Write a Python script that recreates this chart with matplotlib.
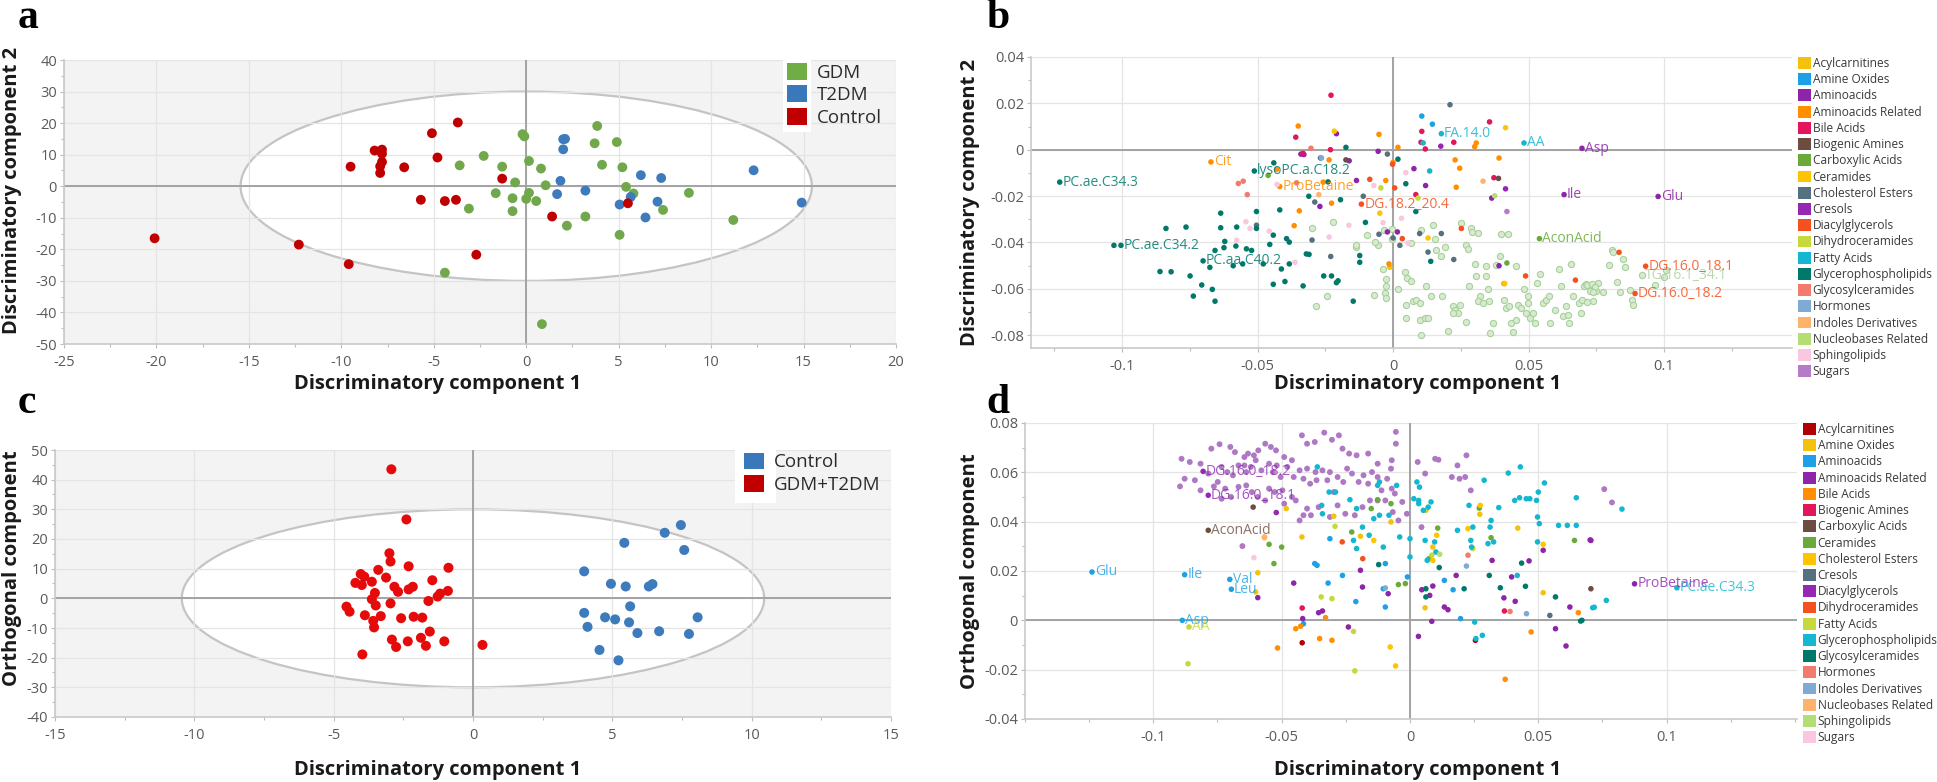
"""
OPLS-DA score and loading plots (GDM / T2DM / Control), four panels a-d.
"""

import matplotlib

matplotlib.use("Agg")
import matplotlib.pyplot as plt
from matplotlib.patches import Ellipse, Patch, Rectangle
from matplotlib.ticker import FixedLocator, FuncFormatter, MultipleLocator

plt.rcParams["font.family"] = ["Open Sans", "DejaVu Sans"]
plt.rcParams["axes.unicode_minus"] = False

# ──────────────────────────────────────────────────────────────────────────────
# Data: panel a (scores, 3 groups)
# ──────────────────────────────────────────────────────────────────────────────

a_groups = ["GDM", "T2DM", "Control"]
a_gdm = [(3.84, 19.1), (-0.2, 16.5), (-0.1, 15.8), (3.7, 13.6), (4.9, 14.0), (-2.3, 9.6),
         (-3.6, 6.6), (-1.3, 6.2), (0.15, 8.0), (0.8, 5.6), (4.1, 6.8), (5.2, 6.0),
         (-0.6, 1.2), (1.05, 0.3), (5.4, -0.2), (5.8, -2.3), (-1.65, -2.2), (-0.74, -3.8),
         (0.15, -2.1), (0.0, -4.0), (0.54, -4.7), (8.8, -2.1), (-3.1, -7.1), (-0.74, -7.9),
         (3.2, -9.6), (7.4, -7.5), (2.2, -12.5), (11.2, -10.7), (5.05, -15.4), (-4.4, -27.4),
         (0.85, -43.7)]
a_t2dm = [(2.0, 14.9), (2.1, 15.0), (2.0, 11.7), (1.85, 1.7), (1.67, -2.5), (3.2, -1.4),
          (6.2, 3.5), (7.3, 2.6), (5.65, -3.4), (5.05, -5.8), (7.1, -4.9), (6.45, -9.9),
          (12.3, 5.05), (14.9, -5.2)]
a_control = [(-3.7, 20.2), (-5.1, 16.8), (-8.2, 11.3), (-7.8, 11.6), (-7.8, 10.3), (-4.8, 9.1),
             (-9.5, 6.2), (-7.8, 7.7), (-7.9, 6.3), (-7.9, 4.2), (-6.6, 6.0), (-1.3, 2.4),
             (-5.7, -4.3), (-4.4, -4.7), (-3.8, -4.3), (1.4, -9.6), (5.5, -5.4), (-20.1, -16.5),
             (-12.3, -18.5), (-9.6, -24.7), (-2.7, -21.7)]
a_ellipse_half = (15.45, 30.0)

# ──────────────────────────────────────────────────────────────────────────────
# Data: panel c (scores, 2 groups)
# ──────────────────────────────────────────────────────────────────────────────

c_groups = ["Control", "GDM+T2DM"]
c_control = [(5.43, 18.7), (6.88, 22.1), (7.46, 24.7), (7.58, 16.3), (3.99, 9.1), (4.95, 4.9),
             (5.48, 4.0), (6.31, 4.0), (6.44, 4.8), (5.64, -2.7), (3.99, -4.9), (4.74, -6.4),
             (5.1, -7.1), (5.6, -8.1), (8.06, -6.4), (4.11, -9.6), (5.9, -11.7), (6.68, -11.1),
             (7.75, -12.0), (4.54, -17.4), (5.22, -20.9)]
c_gdm_t2dm = [(-2.93, 43.5), (-2.39, 26.6), (-3.0, 15.2), (-2.96, 12.4), (-2.31, 10.8),
              (-0.88, 10.3), (-3.4, 9.6), (-4.03, 8.2), (-3.9, 7.3), (-3.12, 7.0), (-4.22, 5.2),
              (-3.99, 4.5), (-3.63, 5.6), (-1.46, 6.1), (-2.82, 3.9), (-2.69, 2.2), (-2.31, 3.0),
              (-2.16, 3.9), (-3.52, 1.8), (-3.63, -0.3), (-0.9, 2.5), (-1.18, 1.6), (-1.27, 0.6),
              (-1.6, -0.9), (-2.96, -1.7), (-3.49, -2.4), (-4.54, -2.8), (-4.43, -4.5),
              (-3.88, -5.7), (-3.31, -6.0), (-2.58, -6.7), (-2.13, -6.2), (-1.82, -6.5),
              (-3.58, -7.6), (-3.55, -9.8), (-1.55, -11.2), (-1.87, -13.3), (-2.91, -13.9),
              (-2.34, -14.5), (-1.03, -14.5), (-2.76, -16.4), (-1.69, -16.0), (-3.97, -18.9),
              (0.34, -15.7)]
c_ellipse_half = (10.45, 30.0)

# ──────────────────────────────────────────────────────────────────────────────
# Data: panels b and d (loadings by compound class)
# ──────────────────────────────────────────────────────────────────────────────

classes = ["Acylcarnitines", "Amine Oxides", "Aminoacids", "Aminoacids Related", "Bile Acids",
           "Biogenic Amines", "Carboxylic Acids", "Ceramides", "Cholesterol Esters", "Cresols",
           "Diacylglycerols", "Dihydroceramides", "Fatty Acids", "Glycerophospholipids",
           "Glycosylceramides", "Hormones", "Indoles Derivatives", "Nucleobases Related",
           "Sphingolipids", "Sugars"]
loading_ticks = [-0.1, -0.05, 0, 0.05, 0.1]

b_points = {
    "Acylcarnitines": [(-0.0012, -0.0508)],
    "Amine Oxides": [(0.0106, 0.0145), (0.0145, 0.011)],
    "Aminoacids": [(0.0697, 0.0006), (0.0631, -0.0194), (0.0978, -0.0202), (-0.0209, 0.0069),
                   (-0.0055, -0.0007), (0.0077, -0.0082), (-0.0135, -0.0133), (-0.0162, -0.0048),
                   (-0.027, -0.0245), (0.012, -0.0155), (0.0364, -0.0209), (0.0391, -0.0501),
                   (-0.0021, -0.0355), (0.0016, -0.0355), (-0.034, -0.0019), (-0.0329, -0.0021)],
    "Aminoacids Related": [(-0.0672, -0.0053), (-0.035, 0.0102), (-0.043, -0.0085),
                           (-0.0418, -0.0159), (-0.0346, -0.0264), (-0.0365, -0.0328),
                           (-0.0236, -0.0044), (-0.0258, -0.014), (-0.0227, -0.0231),
                           (-0.0052, 0.0066), (-0.0027, -0.0133), (0.0, -0.0055), (0.0018, 0.001),
                           (0.0229, -0.0044), (0.0246, -0.008), (0.0307, 0.0029), (0.0301, 0.0013),
                           (0.0391, -0.0036), (0.0233, -0.0162), (0.0409, -0.0578),
                           (-0.0015, -0.0493)],
    "Bile Acids": [(-0.0229, 0.0235), (-0.0359, 0.0054), (0.0106, 0.0079), (0.0103, 0.0032),
                   (0.0119, 0.0003), (0.0224, 0.0032), (0.0356, 0.012), (0.0372, -0.0121),
                   (-0.0231, 0.0), (0.0084, -0.0194), (-0.0332, -0.0016)],
    "Biogenic Amines": [(-0.0174, -0.0044), (0.0389, -0.0124)],
    "Carboxylic Acids": [(0.054, -0.0384), (0.042, -0.0489), (-0.0461, -0.0111)],
    "Ceramides": [(-0.0217, 0.008), (-0.0049, -0.0274), (0.0129, -0.0381), (0.0412, -0.0578),
                  (0.0415, 0.0095)],
    "Cholesterol Esters": [(0.021, 0.0194), (-0.0021, -0.0019), (-0.0289, -0.0226),
                           (-0.023, -0.0461), (0.0, -0.0381), (0.0129, -0.0442), (0.0224, -0.0474),
                           (0.0178, -0.0362), (0.0098, -0.0362), (-0.0052, -0.0365),
                           (-0.0299, -0.039), (-0.0504, -0.0326), (-0.011, -0.0201),
                           (0.0025, -0.0413), (-0.0268, -0.0036)],
    "Cresols": [(0.0176, 0.0015), (0.0415, -0.0169)],
    "Diacylglycerols": [(-0.0117, -0.0235), (-0.0086, -0.0128), (-0.0002, -0.0063),
                        (0.0252, -0.034), (0.0489, -0.0545), (0.0673, -0.0563), (0.0932, -0.0503),
                        (0.0893, -0.0621), (0.0834, -0.0443), (0.0006, -0.0165), (0.0034, -0.0384)],
    "Dihydroceramides": [(-0.0045, -0.0165), (0.0092, -0.0209)],
    "Fatty Acids": [(0.0178, 0.0069), (0.0111, 0.0029), (0.0483, 0.0029), (0.0135, -0.0092)],
    "Glycerophospholipids": [
        (-0.123, -0.014), (-0.103, -0.0413), (-0.1004, -0.0413), (-0.0838, -0.034),
        (-0.0764, -0.0334), (-0.086, -0.0526), (-0.0819, -0.0527), (-0.0749, -0.0545),
        (-0.0737, -0.0632), (-0.0706, -0.0584), (-0.0667, -0.0603), (-0.0657, -0.0654),
        (-0.0701, -0.048), (-0.0676, -0.0508), (-0.0657, -0.0435), (-0.0624, -0.0423),
        (-0.0636, -0.0337), (-0.0636, -0.0274), (-0.0621, -0.0396), (-0.0577, -0.0334),
        (-0.058, -0.0416), (-0.059, -0.0501), (-0.0555, -0.0493), (-0.0541, -0.0428),
        (-0.0522, -0.0435), (-0.0504, -0.0267), (-0.0504, -0.034), (-0.0512, -0.0092),
        (-0.0479, -0.0493), (-0.0455, -0.0409), (-0.0442, -0.0369), (-0.0442, -0.0581),
        (-0.0418, -0.026), (-0.0399, -0.0569), (-0.0393, -0.0384), (-0.0383, -0.0399),
        (-0.0412, -0.0515), (-0.0383, -0.0493), (-0.044, -0.0057), (-0.0332, -0.0588),
        (-0.032, -0.045), (-0.031, -0.0452), (-0.0256, -0.0545), (-0.0227, -0.0545),
        (-0.0209, -0.0574), (-0.0203, -0.0566), (-0.0174, 0.001), (-0.0194, -0.0216),
        (-0.0147, -0.0654), (-0.0123, -0.0457), (-0.0123, -0.0486), (-0.0102, -0.0314),
        (0.0018, -0.0041), (0.0047, -0.0147), (0.0084, -0.0267), (0.0139, -0.0482),
        (-0.024, -0.0139), (-0.0311, -0.0201)],
    "Glycosylceramides": [(-0.0571, -0.0146), (-0.0553, -0.0136), (-0.0538, -0.0194),
                          (-0.0356, -0.0143), (-0.0303, 0.0006)],
    "Hormones": [(-0.0264, -0.0036)],
    "Indoles Derivatives": [(-0.0274, -0.0194), (0.0332, -0.0136)],
    "Nucleobases Related": [(0.0375, -0.0199)],
    "Sphingolipids": [(-0.0428, -0.015), (-0.0543, -0.0311), (-0.0528, -0.034), (-0.0577, -0.0391),
                      (-0.0457, -0.0352), (-0.0362, -0.0486), (-0.0236, -0.0377),
                      (-0.0163, -0.0326), (-0.0071, -0.0155), (0.0047, -0.0099),
                      (0.0031, -0.0296), (0.0055, -0.0403), (-0.0037, -0.0315)],
    "Sugars": [(0.042, -0.0267)],
}

# non-significant lipids (faded cluster, panel b)
b_faded = [(-0.0299, -0.0337), (-0.0285, -0.0673), (-0.0242, -0.0632), (-0.0221, -0.0311),
           (-0.0138, -0.0418), (-0.0098, -0.0369), (-0.0071, -0.0629), (-0.0055, -0.0413),
           (-0.0033, -0.0347), (-0.0031, -0.062), (-0.0027, -0.0588), (-0.0004, -0.0384),
           (-0.0027, -0.0559), (-0.0025, -0.0641), (-0.0004, -0.0343), (0.0045, -0.053),
           (0.0052, -0.0552), (0.0049, -0.0669), (0.0049, -0.0727), (0.0074, -0.0654),
           (0.0086, -0.0647), (0.0098, -0.0661), (0.0068, -0.0566), (0.0065, -0.0401),
           (0.0098, -0.0734), (0.0104, -0.08), (0.0117, -0.0727), (0.0129, -0.0727),
           (0.0123, -0.0588), (0.0141, -0.0632), (0.0147, -0.0326), (0.016, -0.0435),
           (0.0178, -0.0457), (0.0182, -0.0632), (0.0154, -0.0384), (0.019, -0.042),
           (0.0204, -0.0781), (0.0221, -0.0676), (0.0227, -0.069), (0.024, -0.0705),
           (0.0248, -0.0669), (0.0252, -0.0318), (0.027, -0.0413), (0.0268, -0.0742),
           (0.028, -0.0588), (0.0286, -0.034), (0.0292, -0.0355), (0.0301, -0.0493),
           (0.0307, -0.0545), (0.0319, -0.0632), (0.0313, -0.0654), (0.0332, -0.0661),
           (0.0342, -0.0545), (0.0344, -0.0501), (0.035, -0.0603), (0.0354, -0.0654),
           (0.0359, -0.0793), (0.0369, -0.0749), (0.0381, -0.0498), (0.0393, -0.0457),
           (0.0408, -0.0647), (0.0418, -0.0683), (0.0428, -0.0676), (0.0436, -0.0749),
           (0.0442, -0.0785), (0.0452, -0.0734), (0.0455, -0.0501), (0.0424, -0.0366),
           (0.0461, -0.0669), (0.0471, -0.0683), (0.0482, -0.0603), (0.0489, -0.0705),
           (0.0498, -0.0632), (0.0498, -0.0661), (0.0504, -0.0727), (0.0516, -0.0705),
           (0.0522, -0.0746), (0.0531, -0.0574), (0.0541, -0.0537), (0.0553, -0.0661),
           (0.0563, -0.0647), (0.0575, -0.0632), (0.058, -0.0746), (0.0596, -0.069),
           (0.0614, -0.0515), (0.062, -0.0588), (0.0627, -0.072), (0.0639, -0.0676),
           (0.0645, -0.0712), (0.0651, -0.0749), (0.0657, -0.0493), (0.0663, -0.0632),
           (0.0686, -0.0661), (0.0692, -0.0705), (0.0703, -0.0588), (0.0713, -0.0581),
           (0.0725, -0.061), (0.0737, -0.0654), (0.0749, -0.061), (0.0756, -0.0574),
           (0.0399, -0.0366), (0.0313, -0.0359), (0.0104, -0.0347), (-0.0135, -0.0413),
           (-0.0068, -0.0399), (-0.0037, -0.0515), (0.0018, -0.0603), (0.0276, -0.0428),
           (0.0221, -0.0705), (0.0807, -0.0434), (0.0848, -0.047), (0.0795, -0.0499),
           (0.0856, -0.0506), (0.0825, -0.0571), (0.0715, -0.0585), (0.0733, -0.0578),
           (0.0745, -0.0592), (0.0739, -0.0614), (0.0776, -0.0614), (0.0838, -0.0614),
           (0.0875, -0.0606), (0.0881, -0.0649), (0.0887, -0.0671), (0.0918, -0.0542),
           (0.0967, -0.0585), (0.0998, -0.0549), (0.1007, -0.052), (0.0696, -0.0649),
           (0.0715, -0.0657), (0.0813, -0.0442)]

b_labels = [("PC.ae.C34.3", "Glycerophospholipids", (-0.123, -0.014)),
            ("PC.ae.C34.2", "Glycerophospholipids", (-0.1004, -0.0413)),
            ("PC.aa.C40.2", "Glycerophospholipids", (-0.0701, -0.048)),
            ("lysoPC.a.C18.2", "Glycerophospholipids", (-0.0512, -0.0092)),
            ("Cit", "Aminoacids Related", (-0.0672, -0.0053)),
            ("ProBetaine", "Aminoacids Related", (-0.0418, -0.0159)),
            ("DG.18.2_20.4", "Diacylglycerols", (-0.0117, -0.0235)),
            ("FA.14.0", "Fatty Acids", (0.0178, 0.0069)),
            ("AA", "Fatty Acids", (0.0483, 0.0029)),
            ("Asp", "Aminoacids", (0.0697, 0.0006)),
            ("Ile", "Aminoacids", (0.0631, -0.0194)),
            ("Glu", "Aminoacids", (0.0978, -0.0202)),
            ("AconAcid", "Carboxylic Acids", (0.054, -0.0384)),
            ("DG.16.0_18.1", "Diacylglycerols", (0.0932, -0.0503)),
            ("DG.16.0_18.2", "Diacylglycerols", (0.0893, -0.0621))]
b_faded_label = ("TG.16.1_34.1", (0.0918, -0.0542))

d_points = {
    "Acylcarnitines": [(-0.042, -0.0091), (0.0255, -0.0081)],
    "Amine Oxides": [(-0.0482, 0.0453), (-0.0421, 0.0338), (-0.0297, 0.0422), (-0.0193, 0.0341),
                     (-0.0074, 0.0399), (0.0062, 0.0446), (0.0089, 0.0297), (0.0272, 0.043),
                     (0.042, 0.0374), (0.0519, 0.0112), (0.0059, 0.0051), (-0.0593, 0.0193)],
    "Aminoacids": [(-0.1239, 0.0196), (-0.0878, 0.0185), (-0.0702, 0.0166), (-0.0696, 0.0126),
                   (-0.0887, 0.0), (-0.0415, -0.0014), (-0.0371, 0.023), (-0.0362, 0.0223),
                   (-0.0319, 0.0151), (-0.0263, 0.0182), (-0.0211, 0.0076), (-0.0096, 0.0054),
                   (-0.0104, 0.0128), (-0.001, 0.0176), (0.0134, 0.0162), (0.0197, 0.0007),
                   (0.0168, 0.0124), (-0.0096, 0.023), (-0.0312, 0.0331)],
    "Aminoacids Related": [(0.0705, 0.0324), (0.0519, 0.0284), (0.0464, 0.0241), (0.032, 0.0243),
                           (0.0396, 0.0176), (0.018, 0.0182), (0.0366, 0.0091), (0.041, 0.0077),
                           (0.0623, 0.0054), (0.0567, -0.0034), (0.0608, -0.0104),
                           (0.0134, 0.0054), (0.0148, 0.0043), (0.0085, -0.0004),
                           (0.0033, -0.0065), (0.0046, 0.0124), (0.0089, 0.0139), (0.0077, 0.0101),
                           (-0.0085, 0.0108), (-0.0185, 0.0135), (-0.0193, 0.0203),
                           (-0.024, -0.0027), (-0.0453, 0.0151), (-0.0356, 0.0031),
                           (-0.0341, 0.0038), (-0.0418, 0.0007), (-0.0593, 0.0092),
                           (0.0702, 0.0326), (0.0875, 0.0148)],
    "Bile Acids": [(-0.0445, -0.0034), (-0.0426, -0.0024), (-0.0329, 0.0011), (-0.0352, -0.0074),
                   (-0.0304, -0.0081), (-0.0516, -0.0112), (0.0371, -0.0239), (0.0472, -0.0047),
                   (0.0656, 0.0031)],
    "Biogenic Amines": [(-0.042, 0.005), (0.0368, 0.0038)],
    "Carboxylic Acids": [(-0.0786, 0.0365), (-0.0611, 0.0459), (0.0705, 0.0128)],
    "Ceramides": [(-0.0549, 0.0308), (-0.05, 0.0297), (-0.053, 0.023), (-0.0151, 0.0453),
                  (-0.0126, 0.0489), (-0.0074, 0.0473), (-0.0227, 0.0358), (0.0108, 0.0374),
                  (0.0316, 0.0335), (0.027, 0.0455), (0.0641, 0.0324), (-0.0045, 0.0145),
                  (-0.0018, 0.0149), (0.0074, 0.025)],
    "Cholesterol Esters": [(-0.0567, 0.0335), (-0.0141, 0.0324), (0.0104, 0.0345),
                           (0.0226, 0.0372), (0.0274, 0.0466), (0.0519, 0.0308), (0.0089, 0.0243),
                           (-0.0601, 0.0115), (-0.0077, -0.0108), (-0.0056, -0.0185)],
    "Cresols": [(0.0545, 0.002)],
    "Diacylglycerols": [(-0.0806, 0.0604), (-0.0786, 0.0507), (-0.0521, 0.0437)],
    "Dihydroceramides": [(-0.0264, 0.0318), (-0.0184, 0.025)],
    "Fatty Acids": [(-0.0861, -0.0027), (-0.0865, -0.0176), (-0.022, -0.0045), (-0.0215, -0.0205),
                    (-0.0346, 0.0095), (-0.0304, 0.0088), (-0.0292, 0.0381), (0.0085, 0.0264),
                    (0.0245, 0.0291)],
    "Glycerophospholipids": [
        (-0.0361, 0.0622), (-0.0315, 0.052), (-0.029, 0.052), (-0.0344, 0.0466), (-0.0341, 0.0432),
        (-0.0234, 0.0489), (-0.0208, 0.0453), (-0.0185, 0.0378), (-0.022, 0.0324),
        (-0.0208, 0.0291), (-0.0159, 0.0345), (-0.0141, 0.0412), (-0.0126, 0.0547),
        (-0.0119, 0.0561), (-0.0119, 0.0426), (-0.0104, 0.0297), (-0.0082, 0.0426),
        (-0.0052, 0.0547), (-0.004, 0.0338), (0.0, 0.0331), (0.0, 0.0257), (0.0027, 0.0561),
        (0.0037, 0.054), (0.0015, 0.0493), (0.0034, 0.0486), (0.0034, 0.0473), (0.0052, 0.0446),
        (0.0082, 0.048), (0.0071, 0.0459), (0.0059, 0.0324), (0.0067, 0.0243), (0.0096, 0.0318),
        (0.0101, 0.0277), (0.0185, 0.0365), (0.0237, 0.0324), (0.024, 0.0297), (0.0245, 0.0378),
        (0.023, 0.0466), (0.0289, 0.0568), (0.0316, 0.0405), (0.0312, 0.0378), (0.0304, 0.0311),
        (0.0326, 0.0318), (0.0346, 0.0457), (0.0383, 0.0597), (0.0408, 0.0486), (0.0427, 0.0497),
        (0.043, 0.0622), (0.0453, 0.0493), (0.0467, 0.0493), (0.0493, 0.0486), (0.05, 0.052),
        (0.0524, 0.0557), (0.0497, 0.0419), (0.0504, 0.0392), (0.0497, 0.0318), (0.0579, 0.0385),
        (0.0613, 0.0385), (0.0648, 0.0385), (0.0648, 0.0497), (0.0418, 0.0182),
        (0.0257, -0.0074), (0.0282, -0.0061), (0.0712, 0.0051), (0.0252, -0.0007),
        (0.0826, 0.0451), (0.0765, 0.0081), (0.0718, 0.0053), (0.104, 0.0132)],
    "Glycosylceramides": [(-0.0122, 0.0226), (0.0062, 0.0095), (0.0062, 0.0128), (0.0114, 0.0214),
                          (0.0211, 0.0128), (0.0309, 0.0182), (0.0352, 0.0132), (0.0435, 0.0232),
                          (0.045, 0.0138), (0.0567, 0.0095), (0.0665, -0.0003), (0.067, 0.0)],
    "Hormones": [(0.0226, 0.0264), (0.039, 0.0036)],
    "Indoles Derivatives": [(-0.0096, 0.0131), (0.022, 0.022), (0.0454, 0.0027)],
    "Nucleobases Related": [(-0.0567, 0.0338)],
    "Sphingolipids": [(0.0116, 0.0268)],
    "Sugars": [(-0.0608, 0.0254)],
}

# non-significant diacylglycerols (faded cluster, panel d)
d_faded = [(-0.089, 0.0655), (-0.0858, 0.0642), (-0.0816, 0.0635), (-0.0774, 0.0696),
           (-0.0742, 0.0714), (-0.07, 0.0703), (-0.0682, 0.0682), (-0.0645, 0.0662),
           (-0.0631, 0.0676), (-0.0608, 0.0669), (-0.0591, 0.0689), (-0.0564, 0.0716),
           (-0.0542, 0.0703), (-0.0522, 0.0689), (-0.049, 0.0662), (-0.046, 0.0649),
           (-0.0421, 0.075), (-0.0401, 0.0716), (-0.0371, 0.0723), (-0.0334, 0.0761),
           (-0.0304, 0.0732), (-0.0277, 0.075), (-0.0263, 0.0696), (-0.0237, 0.0676),
           (-0.0208, 0.0669), (-0.0163, 0.0676), (-0.0126, 0.0635), (-0.0071, 0.0649),
           (-0.0055, 0.0764), (-0.0055, 0.0716), (-0.0074, 0.0615), (0.003, 0.0642),
           (0.0059, 0.0595), (0.0098, 0.0655), (0.0111, 0.0651), (0.0185, 0.0628),
           (0.022, 0.0669), (0.0215, 0.0581), (0.0237, 0.0527), (0.0193, 0.0574),
           (-0.0896, 0.0543), (-0.0878, 0.0574), (-0.0838, 0.0568), (-0.0816, 0.0527),
           (-0.0786, 0.0595), (-0.0764, 0.0543), (-0.0734, 0.0622), (-0.0712, 0.0601),
           (-0.069, 0.0588), (-0.0668, 0.0628), (-0.0645, 0.0628), (-0.0638, 0.0601),
           (-0.062, 0.0622), (-0.0601, 0.0649), (-0.0579, 0.0608), (-0.0549, 0.0635),
           (-0.0534, 0.0601), (-0.0519, 0.0628), (-0.0504, 0.0581), (-0.0478, 0.0622),
           (-0.0453, 0.0581), (-0.043, 0.0608), (-0.0415, 0.0574), (-0.0401, 0.0615),
           (-0.0389, 0.0554), (-0.0368, 0.0601), (-0.0364, 0.0568), (-0.0341, 0.0608),
           (-0.0322, 0.0568), (-0.0312, 0.0601), (-0.0297, 0.052), (-0.0282, 0.0581),
           (-0.026, 0.0561), (-0.0245, 0.0615), (-0.0226, 0.0595), (-0.02, 0.0561),
           (-0.0181, 0.0588), (-0.0163, 0.0554), (-0.0148, 0.0601), (-0.0126, 0.0581),
           (-0.0111, 0.0527), (-0.0089, 0.0574), (-0.0071, 0.0534), (-0.0059, 0.0514),
           (-0.003, 0.048), (-0.0067, 0.0439), (-0.0126, 0.0486), (-0.0156, 0.0486),
           (-0.0185, 0.0459), (-0.0215, 0.0426), (-0.0252, 0.0432), (-0.0282, 0.0466),
           (-0.0312, 0.0419), (-0.0356, 0.0459), (-0.0386, 0.0426), (-0.0415, 0.0426),
           (-0.043, 0.0405), (-0.0401, 0.0453), (-0.0445, 0.0486), (-0.046, 0.05),
           (-0.049, 0.0473), (-0.0497, 0.0527), (-0.0527, 0.052), (-0.0549, 0.0534),
           (-0.0564, 0.0486), (-0.0593, 0.05), (-0.0616, 0.052), (-0.0638, 0.0547),
           (-0.0668, 0.0541), (-0.0697, 0.05), (-0.072, 0.0534), (-0.0749, 0.0561),
           (-0.0653, 0.0301), (-0.0734, 0.0493), (-0.0096, 0.0486), (-0.0012, 0.0432),
           (0.0045, 0.0378), (0.0163, 0.0581), (-0.0045, 0.0405), (0.0757, 0.0532),
           (0.0787, 0.0478)]

d_labels = [("DG.16.0_18.2", "Diacylglycerols", (-0.0806, 0.0604)),
            ("DG.16.0_18.1", "Diacylglycerols", (-0.0786, 0.0507)),
            ("AconAcid", "Carboxylic Acids", (-0.0786, 0.0365)),
            ("Glu", "Aminoacids", (-0.1239, 0.0196)),
            ("Ile", "Aminoacids", (-0.0878, 0.0185)),
            ("Val", "Aminoacids", (-0.0702, 0.0166)),
            ("Leu", "Aminoacids", (-0.0696, 0.0126)),
            ("Asp", "Aminoacids", (-0.0887, 0.0)),
            ("AA", "Fatty Acids", (-0.0861, -0.0027)),
            ("ProBetaine", "Aminoacids Related", (0.0875, 0.0148)),
            ("PC.ae.C34.3", "Glycerophospholipids", (0.104, 0.0132))]

# ──────────────────────────────────────────────────────────────────────────────
# Styles
# ──────────────────────────────────────────────────────────────────────────────

W, H = 1937, 782
TICK_COLOR = "#5a5a5a"
GRID_COLOR = "#e4e4e4"
ZERO_COLOR = "#a3a3a3"
LABEL_FONT = 14.5
TICK_FONT = 10.5

a_colors = {"GDM": "#70a84b", "T2DM": "#3d7bbd", "Control": "#c00000"}
a_patch_colors = {"GDM": "#70ad47", "T2DM": "#3a78bc", "Control": "#c00000"}
c_colors = {"Control": "#3d7bbd", "GDM+T2DM": "#e60b0b"}
c_patch_colors = {"Control": "#3a78bc", "GDM+T2DM": "#c00000"}

b_palette = ["#f4c20d", "#1da1e6", "#8e24aa", "#ff8f00", "#e3165b", "#6d4c41", "#6aaa3a",
             "#ffc400", "#55707f", "#9527b3", "#f4511e", "#c6d83a", "#14b7d0", "#00796b",
             "#f27b6e", "#7faad3", "#ffb26b", "#b2de73", "#f9c7df", "#b57bc7"]
d_palette = ["#b00000"] + b_palette[:-1]


def px_axes(fig, left, top, right, bottom):
    return fig.add_axes([left / W, 1 - bottom / H, (right - left) / W, (bottom - top) / H])


def num_fmt(v, _pos=None):
    v = round(v, 4)
    return "0" if v == 0 else f"{v:g}"


def style_axes(ax, xlim, ylim, xstep, ystep, facecolor="white", xticks=None):
    ax.set_xlim(*xlim)
    ax.set_ylim(*ylim)
    ax.set_facecolor(facecolor)
    if xticks is None:
        ax.xaxis.set_major_locator(MultipleLocator(xstep))
    else:
        ax.xaxis.set_major_locator(FixedLocator(xticks))
    ax.yaxis.set_major_locator(MultipleLocator(ystep))
    ax.xaxis.set_minor_locator(MultipleLocator(xstep / 2))
    ax.yaxis.set_minor_locator(MultipleLocator(ystep / 2))
    ax.xaxis.set_major_formatter(FuncFormatter(num_fmt))
    ax.yaxis.set_major_formatter(FuncFormatter(num_fmt))
    ax.set_axisbelow(True)
    ax.grid(True, which="major", color=GRID_COLOR, linewidth=0.9)
    ax.axhline(0, color=ZERO_COLOR, linewidth=1.4, zorder=0.8)
    ax.axvline(0, color=ZERO_COLOR, linewidth=1.4, zorder=0.8)
    for side in ("top", "right"):
        ax.spines[side].set_visible(False)
    for side in ("left", "bottom"):
        ax.spines[side].set_color("#c9c9c9")
        ax.spines[side].set_linewidth(1.2)
    ax.tick_params(which="both", colors="#bdbdbd", labelcolor=TICK_COLOR,
                   labelsize=TICK_FONT, length=3, width=0.8)
    ax.tick_params(axis="x", pad=5)
    ax.tick_params(axis="y", pad=2)
    ax.tick_params(which="minor", length=2)


def class_legend(ax, palette):
    handles = [Patch(facecolor=c, edgecolor="none") for c in palette]
    ax.legend(handles, classes, loc="upper left", bbox_to_anchor=(1.008, 1.0),
              frameon=False, fontsize=8.6, handlelength=1.1, handleheight=1.15,
              handletextpad=0.12, labelspacing=0.27, borderpad=0, borderaxespad=0,
              labelcolor="#3a3a3a")


def group_legend(ax, names, colors, anchor, box):
    ax.add_patch(Rectangle(box[:2], box[2], box[3], transform=ax.transAxes,
                           facecolor="white", edgecolor="none", zorder=4))
    handles = [Patch(facecolor=colors[n], edgecolor="none") for n in names]
    ax.legend(handles, names, loc="upper left", bbox_to_anchor=anchor, frameon=False,
              fontsize=13.5, handlelength=1.05, handleheight=1.0, handletextpad=0.55,
              labelspacing=0.2, borderpad=0, borderaxespad=0, labelcolor="#2b2b2b")


def scatter_pts(ax, pts, **kw):
    ax.scatter([p[0] for p in pts], [p[1] for p in pts], **kw)


fig = plt.figure(figsize=(W / 100, H / 100), dpi=100)

# ──────────────────────────────────────────────────────────────────────────────
# Panel a
# ──────────────────────────────────────────────────────────────────────────────

ax_a = px_axes(fig, 64, 60, 896, 344)
style_axes(ax_a, (-25, 20), (-50, 40), 5, 10, facecolor="#f3f3f3")
ax_a.add_patch(Ellipse((0, 0), 2 * a_ellipse_half[0], 2 * a_ellipse_half[1], facecolor="white",
                       edgecolor="#c4c4c4", linewidth=1.6, zorder=0.3))
for name, pts in zip(a_groups, [a_gdm, a_t2dm, a_control]):
    scatter_pts(ax_a, pts, s=50, color=a_colors[name], edgecolors="none", zorder=3)
group_legend(ax_a, a_groups, a_patch_colors, (0.869, 0.99), (0.864, 0.745, 0.034, 0.255))

# ──────────────────────────────────────────────────────────────────────────────
# Panel c
# ──────────────────────────────────────────────────────────────────────────────

ax_c = px_axes(fig, 55, 450, 891, 717)
style_axes(ax_c, (-15, 15), (-40, 50), 5, 10, facecolor="#f3f3f3")
ax_c.add_patch(Ellipse((0, 0), 2 * c_ellipse_half[0], 2 * c_ellipse_half[1], facecolor="white",
                       edgecolor="#c4c4c4", linewidth=1.6, zorder=0.3))
scatter_pts(ax_c, c_control, s=52, color=c_colors["Control"], edgecolors="none", zorder=3)
scatter_pts(ax_c, c_gdm_t2dm, s=52, color=c_colors["GDM+T2DM"], edgecolors="none", zorder=3)
group_legend(ax_c, c_groups, c_patch_colors, (0.824, 0.99), (0.813, 0.8, 0.05, 0.2))

# ──────────────────────────────────────────────────────────────────────────────
# Panel b
# ──────────────────────────────────────────────────────────────────────────────

ax_b = px_axes(fig, 1031, 57, 1792, 348)
style_axes(ax_b, (-0.1336, 0.1472), (-0.0856, 0.04), 0.05, 0.02, xticks=loading_ticks)
scatter_pts(ax_b, b_faded, s=20, facecolor="#d7ebcf", edgecolors="#a9cf9c", linewidths=0.8,
            zorder=2)
for cls, col in zip(classes, b_palette):
    scatter_pts(ax_b, b_points[cls], s=16, color=col, edgecolors="none", zorder=3)
b_col = dict(zip(classes, b_palette))
for text, cls, (x, y) in b_labels:
    ax_b.annotate(text, (x, y), xytext=(2, 0), textcoords="offset points", va="center",
                  fontsize=10, color=b_col[cls], alpha=0.85, zorder=4)
ax_b.annotate(b_faded_label[0], b_faded_label[1], xytext=(2, 0), textcoords="offset points",
              va="center", fontsize=10, color="#a9cf9c", alpha=0.8, zorder=2.5)
class_legend(ax_b, b_palette)

# ──────────────────────────────────────────────────────────────────────────────
# Panel d
# ──────────────────────────────────────────────────────────────────────────────

ax_d = px_axes(fig, 1025, 423, 1797, 719)
style_axes(ax_d, (-0.15, 0.1508), (-0.04, 0.08), 0.05, 0.02, xticks=loading_ticks)
scatter_pts(ax_d, d_faded, s=18, color="#ae78c4", edgecolors="none", zorder=2)
for cls, col in zip(classes, d_palette):
    scatter_pts(ax_d, d_points[cls], s=16, color=col, edgecolors="none", zorder=3)
d_col = dict(zip(classes, d_palette))
for text, cls, (x, y) in d_labels:
    ax_d.annotate(text, (x, y), xytext=(2, 0), textcoords="offset points", va="center",
                  fontsize=10, color=d_col[cls], alpha=0.8, zorder=4)
class_legend(ax_d, d_palette)

# ──────────────────────────────────────────────────────────────────────────────
# Axis titles and panel letters
# ──────────────────────────────────────────────────────────────────────────────

xlab = "Discriminatory component 1"
label_kw = dict(fontsize=LABEL_FONT, fontweight="bold", color="#1a1a1a", ha="center", va="center")
fig.text(438 / W, 1 - 384 / H, xlab, **label_kw)
fig.text(1418 / W, 1 - 384 / H, xlab, **label_kw)
fig.text(438 / W, 1 - 770 / H, xlab, **label_kw)
fig.text(1418 / W, 1 - 770 / H, xlab, **label_kw)
fig.text(12 / W, 1 - 190 / H, "Discriminatory component 2", rotation=90, **label_kw)
fig.text(970 / W, 1 - 202 / H, "Discriminatory component 2", rotation=90, **label_kw)
fig.text(12 / W, 1 - 568 / H, "Orthogonal component", rotation=90, **label_kw)
fig.text(970 / W, 1 - 571 / H, "Orthogonal component", rotation=90, **label_kw)

letter_kw = dict(fontsize=30, fontweight="bold", family="Liberation Serif", va="baseline")
fig.text(18 / W, 1 - 28 / H, "a", **letter_kw)
fig.text(986 / W, 1 - 28 / H, "b", **letter_kw)
fig.text(18 / W, 1 - 413 / H, "c", **letter_kw)
fig.text(986 / W, 1 - 413 / H, "d", **letter_kw)

fig.savefig("out.png", dpi=100)
